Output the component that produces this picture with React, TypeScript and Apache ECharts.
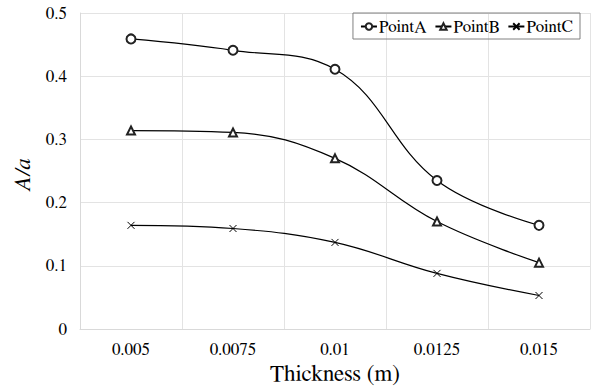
import React, { useEffect, useRef } from "react";
import * as echarts from "echarts";

const categories = ["0.005", "0.0075", "0.01", "0.0125", "0.015"];
const pointA = [0.459, 0.441, 0.411, 0.235, 0.164];
const pointB = [0.314, 0.311, 0.270, 0.170, 0.105];
const pointC = [0.164, 0.159, 0.137, 0.088, 0.053];
const yTicks = [0, 0.1, 0.2, 0.3, 0.4, 0.5];

const FONT = "FreeSerif";
const CROSS = "path://M0,0L10,10M0,10L10,0";

export default function App() {
  const ref = useRef<HTMLDivElement>(null);
  useEffect(() => {
    if (!ref.current) return;
    const chart = echarts.init(ref.current, undefined, { renderer: "svg" });
    const mk = (name: string, data: number[], symbol: string, size: number) => ({
      name,
      type: "line",
      data,
      smooth: 0.4,
      symbol,
      symbolSize: size,
      showAllSymbol: true,
      lineStyle: { color: "#000", width: 1.2 },
      itemStyle: symbol === CROSS
        ? { color: "none", borderColor: "#000", borderWidth: 1 }
        : { color: "#222", borderColor: "#222", borderWidth: 0.8 },
      emphasis: { disabled: true },
    });
    chart.setOption({
      animation: false,
      backgroundColor: "#fff",
      textStyle: { fontFamily: FONT },
      grid: { left: 80, right: 3, top: 13, bottom: 63 },
      legend: {
        top: 13,
        right: 13,
        itemWidth: 16,
        itemHeight: 8,
        itemGap: 8,
        padding: [5, 7, 4, 7],
        borderColor: "#808080",
        borderWidth: 1,
        borderRadius: 0,
        textStyle: { fontFamily: FONT, fontSize: 17, color: "#000", padding: [0, 0, 0, -3] },
        data: ["PointA", "PointB", "PointC"],
      },
      xAxis: {
        type: "category",
        data: categories,
        boundaryGap: true,
        name: "Thickness (m)",
        nameLocation: "middle",
        nameGap: 33,
        nameTextStyle: { fontFamily: FONT, fontSize: 23, color: "#000" },
        axisLine: { lineStyle: { color: "#d9d9d9" } },
        axisTick: { show: false },
        axisLabel: { fontFamily: FONT, fontSize: 17, color: "#000", margin: 12 },
        splitLine: { show: true, lineStyle: { color: "#e3e3e3" } },
      },
      yAxis: {
        type: "value",
        min: yTicks[0],
        max: yTicks[yTicks.length - 1],
        interval: 0.1,
        name: "A/a",
        nameLocation: "middle",
        nameGap: 42,
        nameTextStyle: { fontFamily: FONT, fontSize: 23, fontStyle: "italic", color: "#000", padding: [0, 0, 0, -8] },
        axisLine: { show: true, lineStyle: { color: "#d9d9d9" } },
        axisTick: { show: false },
        axisLabel: { fontFamily: FONT, fontSize: 17, color: "#000", margin: 13 },
        splitLine: { show: true, lineStyle: { color: "#e3e3e3" } },
      },
      series: [
        mk("PointA", pointA, "emptyCircle", 9),
        mk("PointB", pointB, "emptyTriangle", 8),
        mk("PointC", pointC, CROSS, 7),
      ],
    });
    return () => chart.dispose();
  }, []);
  return <div ref={ref} style={{ width: 593, height: 392, position: "absolute", left: 0, top: 0 }} />;
}
